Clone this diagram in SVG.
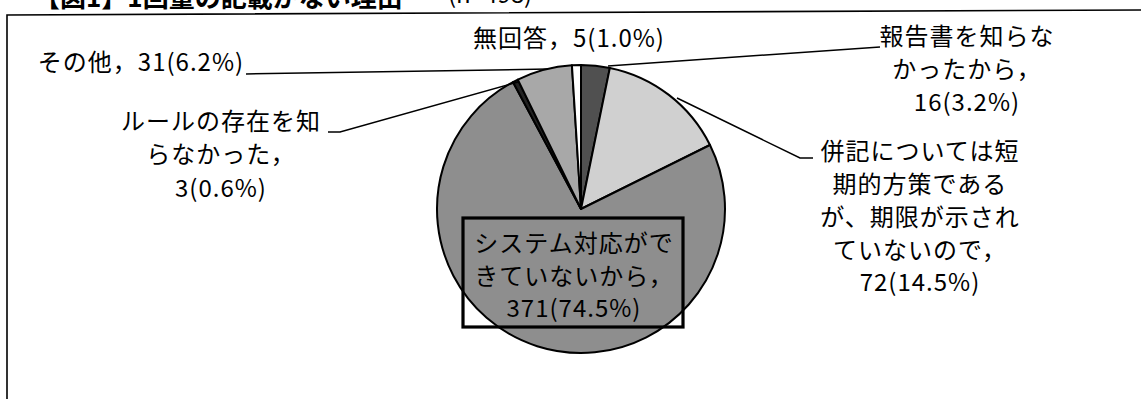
<svg xmlns="http://www.w3.org/2000/svg" width="1141" height="399" viewBox="0 0 1141 399">
<style>
.t{font-family:"Noto Sans CJK JP","Noto Sans CJK SC",sans-serif;font-size:24px;letter-spacing:1px;fill:#000;text-anchor:middle}
.sl{stroke:#000;stroke-width:2;stroke-linejoin:round}
.ld{fill:none;stroke:#000;stroke-width:1.5}
.fr{fill:none;stroke:#000;stroke-width:1.6}
</style>
<rect width="1141" height="399" fill="#fff"/>
<g id="title">
<text x="34" y="7" style="font-family:'Noto Sans CJK JP',sans-serif;font-size:26px;font-weight:bold">【図1】1回量の記載がない理由</text>
<text x="448" y="3" style="font-family:'Noto Sans CJK JP',sans-serif;font-size:24px">(n=498)</text>
</g>
<g id="frame">
<path class="fr" d="M7,399 L7,15 L1141,10"/>
</g>
<g id="pie">
<path id="s-houkoku" class="sl" fill="#505050" d="M581,209 L581,65 A144,144 0 0 1 609.87,67.92 Z"/>
<path id="s-heiki" class="sl" fill="#d0d0d0" d="M581,209 L609.87,67.92 A144,144 0 0 1 709.99,145 Z"/>
<path id="s-system" class="sl" fill="#8e8e8e" d="M581,209 L709.99,145 A144,144 0 1 1 512.97,82.08 Z"/>
<path id="s-rule" class="sl" fill="#222" d="M581,209 L512.97,82.08 A144,144 0 0 1 517.83,79.60 Z"/>
<path id="s-sonota" class="sl" fill="#a8a8a8" d="M581,209 L517.83,79.60 A144,144 0 0 1 571.92,65.29 Z"/>
<path id="s-mukaitou" class="sl" fill="#fff" d="M581,209 L571.92,65.29 A144,144 0 0 1 581,65 Z"/>
</g>
<g id="connectors">
<polyline class="ld" points="246,74 548,69"/>
<polyline class="ld" points="328,132 340,132 518,82"/>
<polyline class="ld" points="608,66 880,47"/>
<polyline class="ld" points="677,98 800,158 813,158"/>
</g>
<g id="label-mukaitou">
<text class="t" x="569" y="47">無回答，5(1.0%)</text>
</g>
<g id="label-sonota">
<text class="t" x="141" y="71">その他，31(6.2%)</text>
</g>
<g id="label-houkoku">
<text class="t" x="967" y="45">報告書を知らな</text>
<text class="t" x="967" y="78">かったから，</text>
<text class="t" x="967" y="111">16(3.2%)</text>
</g>
<g id="label-rule">
<text class="t" x="221" y="130">ルールの存在を知</text>
<text class="t" x="221" y="163">らなかった，</text>
<text class="t" x="221" y="197">3(0.6%)</text>
</g>
<g id="label-heiki">
<text class="t" x="920" y="160">併記については短</text>
<text class="t" x="920" y="193">期的方策である</text>
<text class="t" x="920" y="226">が、期限が示され</text>
<text class="t" x="920" y="259">ていないので，</text>
<text class="t" x="920" y="291">72(14.5%)</text>
</g>
<g id="label-system">
<rect x="463" y="218" width="220" height="109" fill="none" stroke="#000" stroke-width="3.2"/>
<text class="t" x="574" y="252">システム対応がで</text>
<text class="t" x="574" y="285">きていないから，</text>
<text class="t" x="574" y="317">371(74.5%)</text>
</g>
</svg>
